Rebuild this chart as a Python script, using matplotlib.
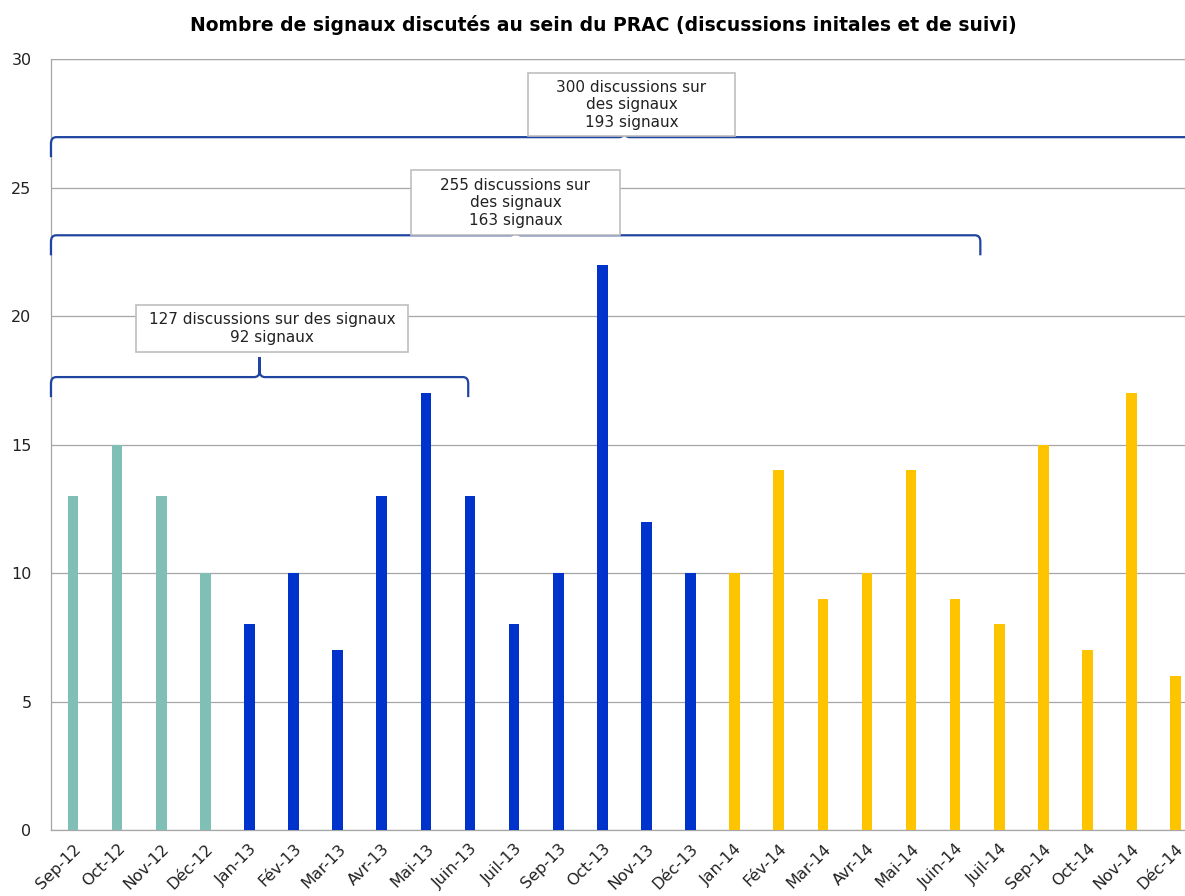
import numpy as np
import matplotlib
matplotlib.use('Agg')
import matplotlib.pyplot as plt
from matplotlib.path import Path
from matplotlib.patches import PathPatch, Rectangle

# données
mois = ['Sep-12', 'Oct-12', 'Nov-12', 'Déc-12', 'Jan-13', 'Fév-13', 'Mar-13', 'Avr-13',
        'Mai-13', 'Juin-13', 'Juil-13', 'Sep-13', 'Oct-13', 'Nov-13', 'Déc-13', 'Jan-14',
        'Fév-14', 'Mar-14', 'Avr-14', 'Mai-14', 'Juin-14', 'Juil-14', 'Sep-14', 'Oct-14',
        'Nov-14', 'Déc-14']
signaux = [13, 15, 13, 10, 8, 10, 7, 13, 17, 13, 8, 10, 22, 12, 10, 10,
           14, 9, 10, 14, 9, 8, 15, 7, 17, 6]
couleurs_annee = {'12': '#7FBFB5', '13': '#0033CC', '14': '#FFC400'}

# accolades : (début, fin, hauteur, texte)
accolades = [
    (-0.5, 8.96, 17.63, '127 discussions sur des signaux\n92 signaux'),
    (-0.5, 20.57, 23.15, '255 discussions sur\ndes signaux\n163 signaux'),
    (-0.5, 25.5, 26.97, '300 discussions sur\ndes signaux\n193 signaux'),
]
# boîtes de texte (x gauche, x droite, y bas, y haut) en unités des axes
boites = [
    (1.43, 7.60, 18.60, 20.43),
    (7.66, 12.40, 23.15, 25.69),
    (10.32, 15.0, 27.0, 29.45),
]

fig = plt.figure(figsize=(11.85, 8.96), dpi=100)
ax = fig.add_axes([0.0430, 0.0737, 0.9678, 0.8601])

x = np.arange(len(mois))
cols = [couleurs_annee[m[-2:]] for m in mois]
ax.bar(x, signaux, width=0.24, color=cols, zorder=3)

ax.set_xlim(-0.5, len(mois) - 0.5)
ax.set_ylim(0, 30)
ax.set_yticks(np.arange(0, 31, 5))
ax.set_xticks(x)
ax.set_xticklabels(mois, rotation=45, ha='right', rotation_mode='anchor', fontsize=11.5)
ax.tick_params(axis='y', labelsize=11.5, length=0, pad=14, labelcolor='#222222')
ax.tick_params(axis='x', length=0, pad=8, labelcolor='#222222')
ax.yaxis.grid(True, color='#A6A6A6', lw=0.9, zorder=0)
ax.set_axisbelow(True)
for s in ['top', 'right']:
    ax.spines[s].set_visible(False)
for s in ['left', 'bottom']:
    ax.spines[s].set_color('#A6A6A6')
    ax.spines[s].set_linewidth(0.9)
ax.axhline(30, color='#A6A6A6', lw=0.9, zorder=0)

rx, ry, drop = 0.12, 0.25, 0.78
for x0, x1, y, txt in accolades:
    xm = (x0 + x1) / 2
    verts = [(x0, y - drop), (x0, y - ry), (x0, y), (x0 + rx, y),
             (xm - rx, y), (xm, y), (xm, y + ry), (xm, y + drop),
             (xm, y + ry), (xm, y), (xm + rx, y),
             (x1 - rx, y), (x1, y), (x1, y - ry), (x1, y - drop)]
    codes = [Path.MOVETO, Path.LINETO, Path.CURVE3, Path.CURVE3,
             Path.LINETO, Path.CURVE3, Path.CURVE3, Path.LINETO,
             Path.LINETO, Path.CURVE3, Path.CURVE3,
             Path.LINETO, Path.CURVE3, Path.CURVE3, Path.LINETO]
    ax.add_patch(PathPatch(Path(verts, codes), fill=False, edgecolor='#1F45A0',
                           lw=1.6, zorder=4, clip_on=False))

for (bx0, bx1, by0, by1), (_, _, _, txt) in zip(boites, accolades):
    ax.add_patch(Rectangle((bx0, by0), bx1 - bx0, by1 - by0, facecolor='white',
                           edgecolor='#BFBFBF', lw=1.2, zorder=5))
    ax.text((bx0 + bx1) / 2, (by0 + by1) / 2, txt, ha='center', va='center',
            fontsize=11, linespacing=1.2, color='#222222', zorder=6)

fig.text(0.509, 0.972, 'Nombre de signaux discutés au sein du PRAC (discussions initales et de suivi)',
         ha='center', va='center', fontsize=13.5, fontweight='bold')

fig.savefig('out.png', dpi=100)
